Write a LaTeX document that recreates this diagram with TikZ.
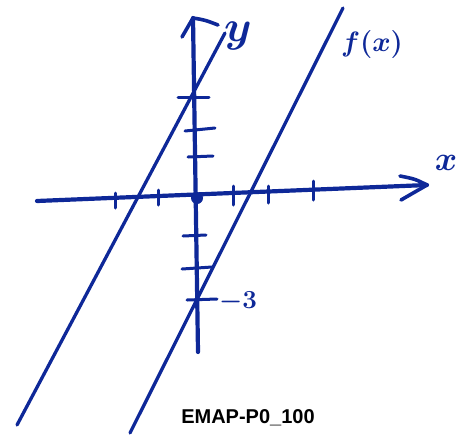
\RequirePackage{fix-cm}
\documentclass[tikz,border=0pt]{standalone}
\usepackage{fontspec}
\usepackage{amsmath}
\newfontfamily\titlefont{Liberation Sans}
\usetikzlibrary{calc}
\definecolor{pen}{RGB}{14,40,152}

\begin{document}
\begin{tikzpicture}[x=1pt,y=-1pt,line cap=round,line join=round]
\tikzset{
  axis/.style={pen,line width=4.2pt},
  graphline/.style={pen,line width=3.3pt},
  tick/.style={pen,line width=3pt},
  hand/.style={pen,inner sep=0pt},
}
\useasboundingbox (0,0) rectangle (470,434);

% axes
\coordinate (xstart) at (37,201);
\coordinate (xend) at (427,185);
\coordinate (ystart) at (198,352);
\coordinate (yend) at (193,18);
\draw[axis] (xstart) -- (xend);
\draw[axis] (ystart) -- (yend);
% hand-drawn arrow heads
\draw[axis,line width=3.6pt] (400,176) .. controls (415,179) .. (xend) -- (401,200);
\draw[axis,line width=3.6pt] (182,37) -- (yend) .. controls (205,20) .. (218,25);

% origin
\node[circle,fill=pen,inner sep=0pt,minimum size=12pt] (origin) at (197,198) {};

% ticks on x
\draw[tick] (115,193) -- (115,208);
\draw[tick] (158,190) -- (158,205);
\draw[tick] (233,186) -- (233,205);
\draw[tick] (268,186) -- (268,203);
\draw[tick] (313,181) -- (313,200);

% ticks on y
\draw[tick] (178,97) -- (209,97);
\draw[tick] (185,131) -- (215,128);
\draw[tick] (188,157) -- (213,156);
\draw[tick] (183,236) -- (206,235);
\draw[tick] (182,269) -- (212,267);
\draw[tick] (187,300) -- (217,299);

% the two parallel lines
\coordinate (lbot) at (17,425);
\coordinate (ltop) at (225,33);
\coordinate (rbot) at (130,433);
\coordinate (rtop) at (343,8);
\draw[graphline] (lbot) -- (ltop);
\draw[graphline] (rbot) -- (rtop);

% labels
\node[hand,font=\fontsize{44}{44}\selectfont\boldmath] (ylabel) at (238,36) {$y$};
\node[hand,font=\fontsize{28}{28}\selectfont\boldmath] (flabel) at (372,44) {$f(x)$};
\node[hand,font=\fontsize{34}{34}\selectfont\boldmath] (xlabel) at (446,163) {$x$};
\node[hand,font=\fontsize{26}{26}\selectfont\boldmath] (mthree) at (238,302) {$-3$};

\node[font=\titlefont\bfseries\fontsize{20}{24}\selectfont] (title) at (248,418) {EMAP-P0\_100};
\end{tikzpicture}
\end{document}
